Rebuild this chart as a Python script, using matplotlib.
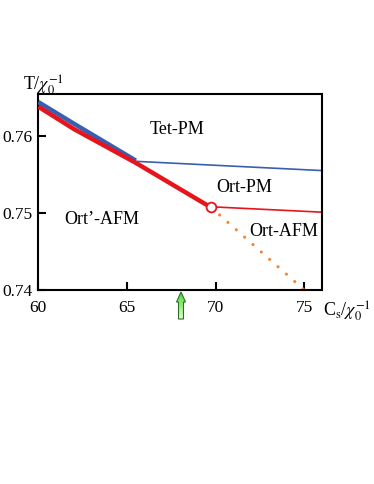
import matplotlib
matplotlib.use("Agg")
import matplotlib.pyplot as plt
import numpy as np
from matplotlib.patches import FancyArrow

plt.rcParams['font.family'] = ['Liberation Serif', 'DejaVu Serif']
plt.rcParams['mathtext.fontset'] = 'stix'

# Data
blue_thick_x = [60.0, 62.0, 65.5]
blue_thick_y = [0.7644, 0.7616, 0.7568]
red_thick_x = [60.0, 62.0, 65.5, 69.75]
red_thick_y = [0.7638, 0.7609, 0.7565, 0.7507]
blue_thin_x = [65.5, 76.0]
blue_thin_y = [0.7567, 0.7555]
red_thin_x = [69.75, 76.0]
red_thin_y = [0.7508, 0.7501]
dot_x = [69.75, 75.0]
dot_y = [0.7507, 0.7400]
crit_x = [69.75]
crit_y = [0.7508]

xticks = [60, 65, 70, 75]
yticks = [0.74, 0.75, 0.76]
ytick_labels = ['0.74', '0.75', '0.76']

fig = plt.figure(figsize=(3.74, 4.84), dpi=100)
ax = fig.add_axes([38.3/374, 1-290/484, (322-38.3)/374, (290-94.3)/484])

ax.plot(blue_thin_x, blue_thin_y, color='#3a5fb0', lw=1.2, zorder=2)
ax.plot(red_thin_x, red_thin_y, color='#e8141c', lw=1.2, zorder=2)
ax.plot(blue_thick_x, blue_thick_y, color='#3a5fb0', lw=3.2, zorder=3, solid_capstyle='butt')
ax.plot(red_thick_x, red_thick_y, color='#e8141c', lw=3.2, zorder=4, solid_capstyle='butt')
ax.plot(dot_x, dot_y, color='#f58231', lw=2.2, ls=(0, (0.05, 3.6)), dash_capstyle='round', zorder=2)
ax.plot(crit_x, crit_y, 'o', ms=7, mfc='white', mec='#e8141c', mew=1.3, zorder=5)

ax.set_xlim(60, 76)
ax.set_ylim(0.74, 0.7654)
ax.set_xticks(xticks)
ax.set_yticks(yticks)
ax.set_yticklabels(ytick_labels)
ax.tick_params(direction='in', length=6, width=1.5, labelsize=12.5, pad=4)
ax.tick_params(axis='x', pad=7)
for s in ax.spines.values():
    s.set_linewidth(1.5)

fs = 13
ax.text(67.85, 0.7608, 'Tet-PM', fontsize=fs, ha='center', va='center')
ax.text(71.6, 0.7533, 'Ort-PM', fontsize=fs, ha='center', va='center')
ax.text(63.6, 0.7491, 'Ort\u2019-AFM', fontsize=fs, ha='center', va='center')
ax.text(73.85, 0.7476, 'Ort-AFM', fontsize=fs, ha='center', va='center')

fig.text(23/374, 1-85/484, r'T/$\chi_0^{-1}$', fontsize=13, ha='left', va='center')
fig.text(323/374, 1-311/484, r'C$_\mathrm{s}$/$\chi_0^{-1}$', fontsize=13, ha='left', va='center')

# Green arrow below axis with gradient fill
gax = fig.add_axes([0, 0, 1, 1], zorder=5)
gax.axis('off')
gax.set_xlim(0, 1); gax.set_ylim(0, 1)
arr = FancyArrow(181/374, 1-319/484, 0, 27/484, width=5/374, head_width=9/374,
                 head_length=10/484, length_includes_head=True,
                 facecolor='none', edgecolor='#2f6b2a', lw=0.8, zorder=10)
gax.add_patch(arr)
grad = np.linspace(0, 1, 100).reshape(-1, 1)
rgb = np.dstack([0.85 - 0.55*grad, 1.0 - 0.15*grad, 0.8 - 0.6*grad])
im = gax.imshow(rgb, extent=[176/374, 186/374, 1-292/484, 1-319/484], origin='upper',
                aspect='auto', zorder=9)
im.set_clip_path(arr)
gax.set_xlim(0, 1); gax.set_ylim(0, 1)

fig.savefig('out.png', dpi=100)
